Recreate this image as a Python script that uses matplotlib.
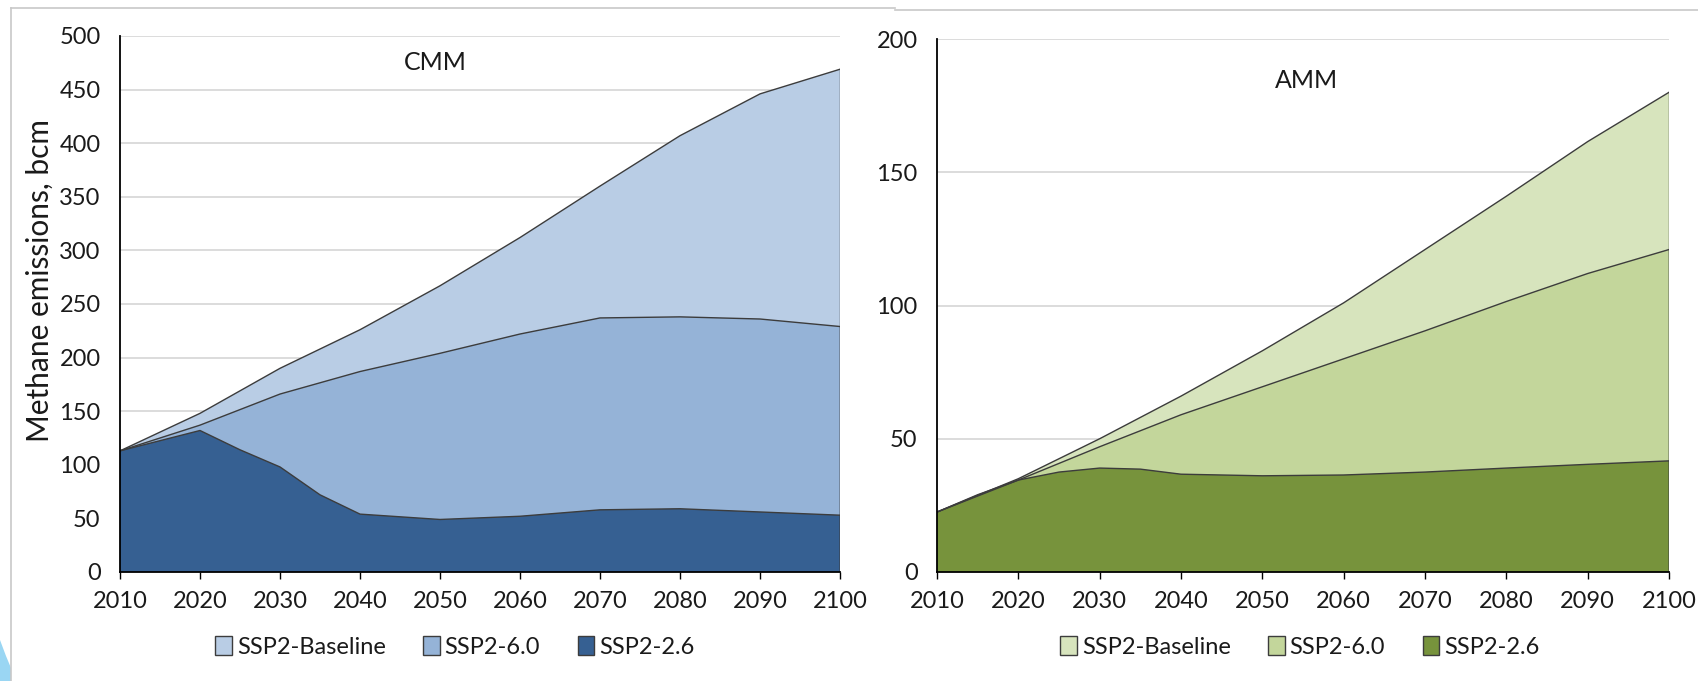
import matplotlib
matplotlib.use("Agg")
import matplotlib.pyplot as plt
from matplotlib.lines import Line2D
from matplotlib.patches import Polygon, Patch

plt.rcParams['font.family'] = ['Lato', 'DejaVu Sans']

# ---- data -------------------------------------------------------------
scenarios = ["SSP2-Baseline", "SSP2-6.0", "SSP2-2.6"]

cmm_years = [2010, 2020, 2030, 2040, 2050, 2060, 2070, 2080, 2090, 2100]
cmm_baseline = [113, 148, 190, 226, 267, 312, 360, 407, 446, 469]
cmm_60 = [113, 137, 166, 187, 204, 222, 237, 238, 236, 229]
cmm_26_years = [2010, 2020, 2025, 2030, 2035, 2040, 2050, 2060, 2070, 2080, 2090, 2100]
cmm_26 = [113, 132, 114, 98, 72, 54, 49, 52, 58, 59, 56, 53]

amm_years = [2010, 2020, 2030, 2040, 2050, 2060, 2070, 2080, 2090, 2100]
amm_baseline = [22.5, 35, 50, 66, 83, 101, 121, 141, 161.5, 180]
amm_60 = [22.5, 34.5, 47, 59, 69.5, 80, 90.5, 101.5, 112, 121]
amm_26_years = [2010, 2015, 2020, 2025, 2030, 2035, 2040, 2050, 2060, 2070, 2080, 2090, 2100]
amm_26 = [22.5, 29, 34.5, 37.5, 39, 38.6, 36.7, 36.1, 36.4, 37.5, 39, 40.4, 41.7]

x_ticks = [2010, 2020, 2030, 2040, 2050, 2060, 2070, 2080, 2090, 2100]
cmm_yticks = [0, 50, 100, 150, 200, 250, 300, 350, 400, 450, 500]
amm_yticks = [0, 50, 100, 150, 200]

cmm_colors = ["#B9CDE5", "#95B3D7", "#366092"]
amm_colors = ["#D7E4BD", "#C3D69B", "#77933C"]

# ---- figure -----------------------------------------------------------
W, H = 1699, 681
fig = plt.figure(figsize=(W / 100, H / 100), dpi=100)


def px_box(x0, y0, x1, y1):
    return [x0 / W, 1 - y1 / H, (x1 - x0) / W, (y1 - y0) / H]


EDGE = "#3C3C3C"
TXT = "#1A1A1A"


def draw_panel(ax, series, colors, yticks, title, title_xy):
    for (xs, ys), c in zip(series, colors):
        ax.fill_between(xs, 0, ys, facecolor=c, edgecolor="none", zorder=2)
        ax.plot(xs, ys, color=EDGE, lw=1.0, zorder=3)
        ax.plot([xs[-1], xs[-1]], [0, ys[-1]], color=EDGE, lw=1.0, zorder=3)
    ax.set_xlim(x_ticks[0], x_ticks[-1])
    ax.set_ylim(yticks[0], yticks[-1])
    ax.set_xticks(x_ticks)
    ax.set_yticks(yticks)
    ax.yaxis.grid(True, color="#D9D9D9", lw=1.3, zorder=0)
    ax.set_axisbelow(True)
    for s in ("top", "right"):
        ax.spines[s].set_visible(False)
    for s in ("left", "bottom"):
        ax.spines[s].set_color("black")
        ax.spines[s].set_linewidth(1.3)
        ax.spines[s].set_zorder(4)
    ax.tick_params(axis="x", direction="out", length=5, width=1.0,
                   labelsize=17, pad=9, colors="black")
    ax.tick_params(axis="y", length=0, labelsize=17, pad=14, colors="black")
    for lab in ax.get_xticklabels() + ax.get_yticklabels():
        lab.set_color(TXT)
    ax.text(title_xy[0], title_xy[1], title, transform=ax.transAxes,
            ha="center", va="center", fontsize=18, color=TXT)


ax1 = fig.add_axes(px_box(120, 36, 840, 572))
draw_panel(ax1,
           [(cmm_years, cmm_baseline), (cmm_years, cmm_60), (cmm_26_years, cmm_26)],
           cmm_colors, cmm_yticks, "CMM", ((435 - 120) / 720, 1 - (63 - 36) / 536))

ax2 = fig.add_axes(px_box(937, 39, 1669, 572))
draw_panel(ax2,
           [(amm_years, amm_baseline), (amm_years, amm_60), (amm_26_years, amm_26)],
           amm_colors, amm_yticks, "AMM", ((1306 - 937) / 732, 1 - (80 - 39) / 533))

fig.text(40 / W, 1 - 281 / H, "Methane emissions, bcm", rotation=90,
         ha="center", va="center", fontsize=21.5, color=TXT)

# legends below each panel
for colors, center in ((cmm_colors, (455, 647)), (amm_colors, (1300, 647))):
    handles = [Patch(facecolor=c, edgecolor="#3C3C3C", lw=1.0) for c in colors]
    fig.legend(handles, scenarios, loc="center",
               bbox_to_anchor=(center[0] / W, 1 - center[1] / H),
               ncol=3, frameon=False, fontsize=17, handlelength=0.7,
               handleheight=0.85, handletextpad=0.2, columnspacing=1.6,
               labelcolor=TXT)

# panel frames
frame_c = "#C8C8C8"
fig.add_artist(Line2D([11 / W, 895 / W], [1 - 8 / H, 1 - 8 / H], color=frame_c, lw=1.2))
fig.add_artist(Line2D([11 / W, 11 / W], [1 - 8 / H, 0], color=frame_c, lw=1.2))
fig.add_artist(Line2D([895 / W, 1], [1 - 10 / H, 1 - 10 / H], color=frame_c, lw=1.2))

# corner accent
fig.add_artist(Polygon([(0, 1 - 640 / H), (6 / W, 1 - 656 / H), (11 / W, 1 - 668 / H),
                        (11 / W, 0), (0, 0)], closed=True,
                       facecolor="#9AD6F3", edgecolor="none", transform=fig.transFigure))

fig.savefig("out.png", dpi=100)
